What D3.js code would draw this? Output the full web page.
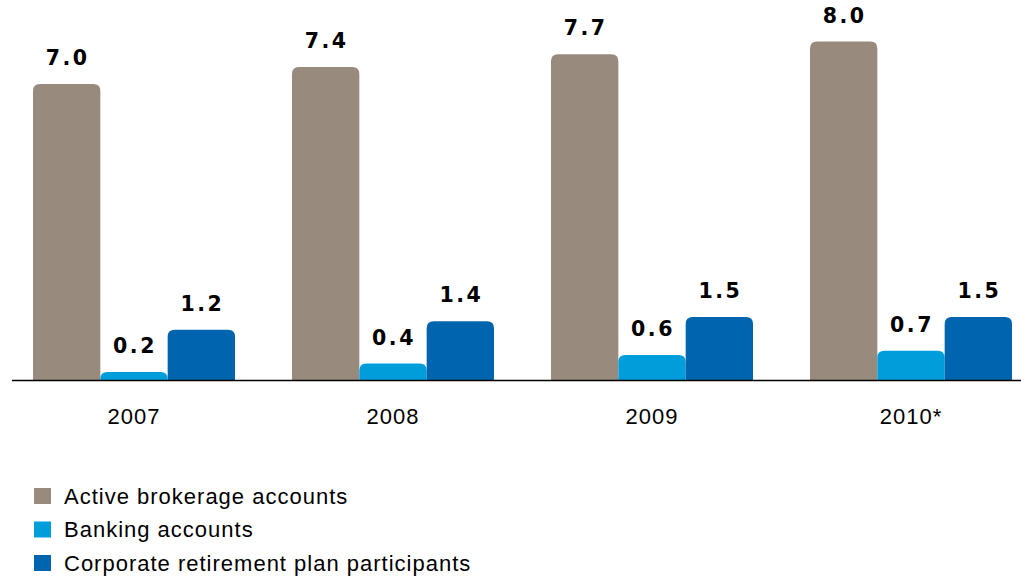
<!DOCTYPE html>
<html>
<head>
<meta charset="utf-8">
<script src="https://cdn.jsdelivr.net/npm/d3@7"></script>
<style>
  html, body { margin: 0; padding: 0; background: #fff; }
  svg { display: block; }
</style>
</head>
<body>
<svg id="chart" width="1021" height="578"></svg>
<script>
// Accounts and participants by year (millions)
const years = ["2007", "2008", "2009", "2010*"];
const seriesNames = ["Active brokerage accounts", "Banking accounts", "Corporate retirement plan participants"];
const brokerage = [7.0, 7.4, 7.7, 8.0];
const banking = [0.2, 0.4, 0.6, 0.7];
const retirement = [1.2, 1.4, 1.5, 1.5];
const colors = ["#988a7d", "#009ddb", "#0065ae"];

const seriesValues = [brokerage, banking, retirement];
const rows = years.map((y, i) => ({
  year: y,
  values: seriesValues.map((vals, s) => ({ key: seriesNames[s], value: vals[i], s }))
}));

const svg = d3.select("#chart");
const baseY = 380.5;

const x0 = d3.scaleBand().domain(years).range([4.5, 1040.5]).paddingInner(0.22).paddingOuter(0.11);
const x1 = d3.scaleBand().domain(seriesNames).range([0, x0.bandwidth()]).padding(0);
const y = d3.scaleLinear().domain([0, 8]).range([baseY, baseY - 339]);

// Bar with rounded top corners only
function topRounded(x, yTop, w, h, r) {
  r = Math.min(r, h, w / 2);
  return `M${x},${yTop + h}V${yTop + r}Q${x},${yTop} ${x + r},${yTop}H${x + w - r}Q${x + w},${yTop} ${x + w},${yTop + r}V${yTop + h}Z`;
}

const groups = svg.append("g").selectAll("g.group")
  .data(rows).join("g")
  .attr("class", "group")
  .attr("transform", d => `translate(${x0(d.year)},0)`);

groups.selectAll("path.bar")
  .data(d => d.values).join("path")
  .attr("class", "bar")
  .attr("fill", d => colors[d.s])
  .attr("d", d => topRounded(x1(d.key), y(d.value), x1.bandwidth(), baseY - y(d.value), 7));

groups.selectAll("text.val")
  .data(d => d.values).join("text")
  .attr("class", "val")
  .attr("x", d => x1(d.key) + x1.bandwidth() / 2 + 1)
  .attr("y", d => y(d.value) - 19)
  .attr("text-anchor", "middle")
  .attr("font-family", "DejaVu Sans, Verdana, sans-serif")
  .attr("font-weight", "bold")
  .attr("font-size", 20.5)
  .attr("letter-spacing", 2.5)
  .attr("fill", "#000")
  .text(d => d3.format(".1f")(d.value));

// Baseline axis with category labels
const axis = svg.append("g")
  .attr("transform", `translate(0,${baseY})`)
  .call(d3.axisBottom(x0).tickSize(0).tickPadding(0));
axis.select(".domain").remove();
axis.selectAll("text")
  .attr("dy", null)
  .attr("y", 43)
  .attr("font-family", "Liberation Sans, Arial, sans-serif")
  .attr("font-size", 22)
  .attr("letter-spacing", 1)
  .attr("fill", "#000");

svg.append("line")
  .attr("x1", 12).attr("x2", 1021)
  .attr("y1", baseY).attr("y2", baseY)
  .attr("stroke", "#000").attr("stroke-width", 1.6);

// Legend
const legend = svg.append("g").selectAll("g")
  .data(seriesNames).join("g")
  .attr("transform", (d, i) => `translate(34,${488 + i * 33.5})`);
legend.append("rect")
  .attr("width", 17).attr("height", 16)
  .attr("fill", (d, i) => colors[i]);
legend.append("text")
  .attr("x", 30).attr("y", 15.5)
  .attr("font-family", "Liberation Sans, Arial, sans-serif")
  .attr("font-size", 22)
  .attr("letter-spacing", 1)
  .attr("fill", "#000")
  .text(d => d);
</script>
</body>
</html>
